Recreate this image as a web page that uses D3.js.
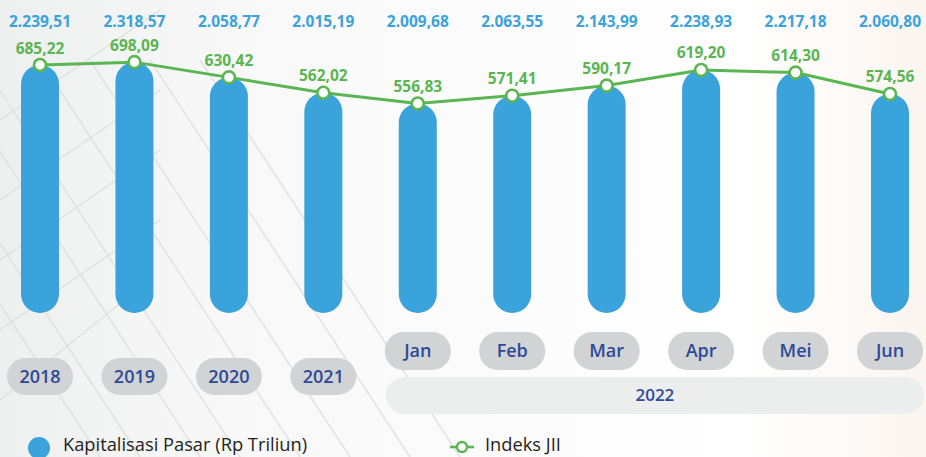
<!DOCTYPE html>
<html>
<head>
<meta charset="utf-8">
<script src="https://cdn.jsdelivr.net/npm/d3@7/dist/d3.min.js"></script>
<style>
  html, body { margin: 0; padding: 0; background: #ffffff; }
  svg { display: block; font-family: "Open Sans", "Noto Sans", sans-serif; }
</style>
</head>
<body>
<svg id="chart" width="926" height="457"></svg>
<script>
// ---- data ----
const categories = ["2018", "2019", "2020", "2021", "Jan", "Feb", "Mar", "Apr", "Mei", "Jun"];
const yearCats = ["2018", "2019", "2020", "2021"];
const monthCats = ["Jan", "Feb", "Mar", "Apr", "Mei", "Jun"];
const groupLabel = "2022";
const kapitalisasi = [2239.51, 2318.57, 2058.77, 2015.19, 2009.68, 2063.55, 2143.99, 2238.93, 2217.18, 2060.80];
const kapitalisasiLabels = ["2.239,51", "2.318,57", "2.058,77", "2.015,19", "2.009,68", "2.063,55", "2.143,99", "2.238,93", "2.217,18", "2.060,80"];
const indeksJII = [685.22, 698.09, 630.42, 562.02, 556.83, 571.41, 590.17, 619.20, 614.30, 574.56];
const indeksLabels = ["685,22", "698,09", "630,42", "562,02", "556,83", "571,41", "590,17", "619,20", "614,30", "574,56"];
const legendNames = ["Kapitalisasi Pasar (Rp Triliun)", "Indeks JII"];

// ---- styles ----
const BLUE = "#3aa3dc";
const GREEN = "#5ab552";
const PILL = "#d2d3d5";
const PILL_TEXT = "#2c4a98";

const svg = d3.select("#chart");
const W = 926, H = 457;

// background
const defs = svg.append("defs");
const bg = defs.append("linearGradient").attr("id", "bg").attr("x1", "0").attr("x2", "1").attr("y1", "0").attr("y2", "0");
bg.append("stop").attr("offset", "0%").attr("stop-color", "#eeefef");
bg.append("stop").attr("offset", "25%").attr("stop-color", "#f8f8f8");
bg.append("stop").attr("offset", "80%").attr("stop-color", "#ffffff");
bg.append("stop").attr("offset", "100%").attr("stop-color", "#fbf5f0");
svg.append("rect").attr("width", W).attr("height", H).attr("fill", "url(#bg)");

// faint architectural diagonal lines on the left
const deco = svg.append("g").attr("stroke", "#dfe0e0").attr("stroke-width", 1.5).attr("fill", "none").attr("opacity", 0.9);
const decoOffsets = [-160, -120, -60, -20, 40, 90, 150, 200];
decoOffsets.forEach(o => {
  deco.append("line").attr("x1", o).attr("y1", 60).attr("x2", o + 260).attr("y2", 457);
});
[120, 200, 260, 330, 400].forEach(o => {
  deco.append("line").attr("x1", 0).attr("y1", o).attr("x2", Math.min(160, 457 - o + 80)).attr("y2", o - 110);
});

// ---- scales ----
const x = d3.scalePoint().domain(categories).range([40, 890]).padding(0);
// annual panel and monthly (2022) panel use their own index scales
const yYear = d3.scaleLinear().domain([550, 700]).range([95.5, 61.7]);
const yMonth = d3.scaleLinear().domain([550, 650]).range([107.2, 53.4]);
const yOf = (v, i) => (yearCats.includes(categories[i]) ? yYear : yMonth)(v);
const baseline = 313;
const barW = 38;

// bars (rounded pills from baseline up to index value)
svg.append("g").selectAll("rect").data(categories).join("rect")
  .attr("x", d => x(d) - barW / 2)
  .attr("width", barW)
  .attr("y", (d, i) => yOf(indeksJII[i], i))
  .attr("height", (d, i) => baseline - yOf(indeksJII[i], i))
  .attr("rx", barW / 2)
  .attr("fill", BLUE);

// capitalization labels
svg.append("g").selectAll("text").data(categories).join("text")
  .attr("x", d => x(d))
  .attr("y", 27)
  .attr("text-anchor", "middle")
  .attr("font-size", "15.5px")
  .attr("font-weight", 700)
  .attr("fill", BLUE)
  .text((d, i) => kapitalisasiLabels[i]);

// line
const line = d3.line().x((d, i) => x(categories[i])).y((d, i) => yOf(d, i));
svg.append("path").datum(indeksJII)
  .attr("d", line)
  .attr("fill", "none")
  .attr("stroke", GREEN)
  .attr("stroke-width", 3);

svg.append("g").selectAll("circle").data(indeksJII).join("circle")
  .attr("cx", (d, i) => x(categories[i]))
  .attr("cy", (d, i) => yOf(d, i))
  .attr("r", 6)
  .attr("fill", "#ffffff")
  .attr("stroke", GREEN)
  .attr("stroke-width", 2.6);

svg.append("g").selectAll("text").data(indeksJII).join("text")
  .attr("x", (d, i) => x(categories[i]))
  .attr("y", (d, i) => yOf(d, i) - 11.5)
  .attr("text-anchor", "middle")
  .attr("font-size", "15.5px")
  .attr("font-weight", 700)
  .attr("fill", GREEN)
  .text((d, i) => indeksLabels[i]);

// ---- category pills (axis) ----
const pillW = 66, pillH = 37;
const yearG = svg.append("g").selectAll("g").data(yearCats).join("g")
  .attr("transform", d => `translate(${x(d)},376.5)`);
yearG.append("rect").attr("x", -pillW / 2).attr("y", -pillH / 2).attr("width", pillW).attr("height", pillH)
  .attr("rx", pillH / 2).attr("fill", PILL);
yearG.append("text").attr("text-anchor", "middle").attr("dy", "0.35em")
  .attr("font-size", "18px").attr("font-weight", 600).attr("fill", PILL_TEXT).text(d => d);

// 2022 group pill
const gx0 = x(monthCats[0]) - pillW / 2 + 1;
const gx1 = x(monthCats[monthCats.length - 1]) + pillW / 2 + 1;
svg.append("rect").attr("x", gx0).attr("y", 377).attr("width", gx1 - gx0).attr("height", 37)
  .attr("rx", 18.5).attr("fill", "#eceded");
svg.append("text").attr("x", (gx0 + gx1) / 2).attr("y", 395.5).attr("dy", "0.35em")
  .attr("text-anchor", "middle").attr("font-size", "17px").attr("font-weight", 600)
  .attr("fill", PILL_TEXT).text(groupLabel);

const monthG = svg.append("g").selectAll("g").data(monthCats).join("g")
  .attr("transform", d => `translate(${x(d)},351)`);
monthG.append("rect").attr("x", -pillW / 2).attr("y", -pillH / 2 - 0.5).attr("width", pillW).attr("height", pillH + 1)
  .attr("rx", pillH / 2).attr("fill", PILL);
monthG.append("text").attr("text-anchor", "middle").attr("dy", "0.35em")
  .attr("font-size", "18px").attr("font-weight", 600).attr("fill", PILL_TEXT).text(d => d);

// ---- legend ----
const leg = svg.append("g");
leg.append("circle").attr("cx", 39).attr("cy", 448).attr("r", 11).attr("fill", BLUE);
leg.append("text").attr("x", 63).attr("y", 451).attr("font-size", "18.3px").attr("fill", "#231f20").text(legendNames[0]);
leg.append("line").attr("x1", 450).attr("x2", 474).attr("y1", 447).attr("y2", 447).attr("stroke", GREEN).attr("stroke-width", 2.6);
leg.append("circle").attr("cx", 462).attr("cy", 447).attr("r", 5).attr("fill", "#fff").attr("stroke", GREEN).attr("stroke-width", 2.4);
leg.append("text").attr("x", 485).attr("y", 451).attr("font-size", "18.3px").attr("fill", "#231f20").text(legendNames[1]);
</script>
</body>
</html>
